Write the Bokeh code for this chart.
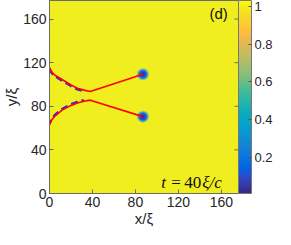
import numpy as np
from bokeh.plotting import figure
from bokeh.models import (LinearColorMapper, ColorBar, FixedTicker,
                          Label, CustomJSTickFormatter, Range1d)
from bokeh.embed import file_html
from bokeh.resources import INLINE

# ---------------- data ----------------
axis_ticks = [0, 40, 80, 120, 160]
cbar_ticks = [0.2, 0.4, 0.6, 0.8, 1.0]

# upper vortex trajectory (curved part then straight segment to the vortex)
top_x = [0, 2, 5, 11.7, 20, 26, 32, 38, 87]
top_y = [115.5, 111.5, 108.5, 104.5, 99.5, 96.5, 94.8, 93.6, 109.3]
# lower vortex trajectory
bot_x = [0, 2, 5, 11.7, 20, 26, 32, 38, 87]
bot_y = [63.0, 67.5, 71.0, 76.5, 80.8, 83.0, 84.6, 85.6, 70.5]
# current vortex positions
vortex_x = [87, 87]
vortex_y = [109.3, 70.5]

# parula colormap (64 entries)
parula = [
    (0.2081, 0.1663, 0.5292), (0.2116, 0.1898, 0.5777), (0.2123, 0.2138, 0.6270), (0.2081, 0.2386, 0.6771),
    (0.1959, 0.2645, 0.7279), (0.1707, 0.2919, 0.7792), (0.1253, 0.3242, 0.8303), (0.0591, 0.3598, 0.8683),
    (0.0117, 0.3875, 0.8820), (0.0060, 0.4086, 0.8828), (0.0165, 0.4266, 0.8786), (0.0329, 0.4430, 0.8720),
    (0.0498, 0.4586, 0.8641), (0.0629, 0.4737, 0.8554), (0.0723, 0.4887, 0.8467), (0.0779, 0.5040, 0.8384),
    (0.0793, 0.5200, 0.8312), (0.0749, 0.5375, 0.8263), (0.0641, 0.5570, 0.8240), (0.0488, 0.5772, 0.8228),
    (0.0343, 0.5966, 0.8199), (0.0265, 0.6137, 0.8135), (0.0239, 0.6287, 0.8038), (0.0231, 0.6418, 0.7913),
    (0.0228, 0.6535, 0.7768), (0.0267, 0.6642, 0.7607), (0.0384, 0.6743, 0.7436), (0.0590, 0.6838, 0.7254),
    (0.0843, 0.6928, 0.7062), (0.1133, 0.7015, 0.6859), (0.1453, 0.7098, 0.6646), (0.1801, 0.7177, 0.6424),
    (0.2178, 0.7250, 0.6193), (0.2586, 0.7317, 0.5954), (0.3022, 0.7376, 0.5712), (0.3482, 0.7424, 0.5473),
    (0.3953, 0.7459, 0.5244), (0.4420, 0.7481, 0.5033), (0.4871, 0.7491, 0.4840), (0.5300, 0.7491, 0.4661),
    (0.5709, 0.7485, 0.4494), (0.6099, 0.7473, 0.4337), (0.6473, 0.7456, 0.4188), (0.6834, 0.7435, 0.4044),
    (0.7184, 0.7411, 0.3905), (0.7525, 0.7384, 0.3768), (0.7858, 0.7356, 0.3633), (0.8185, 0.7327, 0.3498),
    (0.8507, 0.7299, 0.3360), (0.8824, 0.7274, 0.3217), (0.9139, 0.7258, 0.3063), (0.9450, 0.7261, 0.2886),
    (0.9739, 0.7314, 0.2666), (0.9938, 0.7455, 0.2403), (0.9990, 0.7653, 0.2164), (0.9955, 0.7861, 0.1967),
    (0.9880, 0.8066, 0.1794), (0.9789, 0.8271, 0.1633), (0.9697, 0.8481, 0.1475), (0.9626, 0.8705, 0.1309),
    (0.9589, 0.8949, 0.1132), (0.9598, 0.9218, 0.0948), (0.9661, 0.9514, 0.0755), (0.9763, 0.9831, 0.0538),
]
palette = ["#%02x%02x%02x" % tuple(int(round(c * 255)) for c in rgb) for rgb in parula]

# ---------------- figure ----------------
TICK_FONT = "Liberation Sans"
AX_COLOR = "#6b6b6b"
X_MAX, Y_MAX = 176, 177
p = figure(width=275, height=229, x_range=Range1d(0, X_MAX), y_range=Range1d(0, Y_MAX),
           output_backend="svg", toolbar_location=None,
           min_border_left=0, min_border_right=0, min_border_top=0, min_border_bottom=0)
p.background_fill_color = "#F1EE1F"
p.border_fill_color = "white"
p.outline_line_color = AX_COLOR
p.grid.visible = False

for ax in (p.xaxis[0], p.yaxis[0]):
    ax.ticker = FixedTicker(ticks=axis_ticks)
    ax.major_tick_in = 4
    ax.major_tick_out = 0
    ax.minor_tick_line_color = None
    ax.axis_line_color = AX_COLOR
    ax.major_tick_line_color = AX_COLOR
    ax.major_label_text_font = TICK_FONT
    ax.major_label_text_font_size = "14px"
    ax.major_label_text_color = "#262626"
    ax.axis_label_text_font = TICK_FONT
    ax.axis_label_text_font_size = "15px"
    ax.axis_label_text_font_style = "normal"
    ax.axis_label_text_color = "#262626"
    ax.axis_label_standoff = 0
    ax.major_label_standoff = 3

p.xaxis.axis_label = "x/ξ"
p.yaxis.axis_label = "y/ξ"

# inward tick marks on the right edge of the box (half of each dash is clipped by the frame)
p.scatter([X_MAX] * len(axis_ticks), axis_ticks, marker="dash", size=8,
          line_color=AX_COLOR, line_width=1)

# trajectories: blue dashes on inner side, red line on top
blue_top_y = [v - 1.0 for v in top_y[:7]]
blue_bot_y = [v + 1.0 for v in bot_y[:7]]
p.line(top_x[:7], blue_top_y, line_color="#2b2be0", line_width=2.4, line_dash="7 4")
p.line(bot_x[:7], blue_bot_y, line_color="#2b2be0", line_width=2.4, line_dash="7 4", line_dash_offset=3)

# vortex cores
p.scatter(vortex_x, vortex_y, size=12, fill_color="#5cbfa0", line_color=None, fill_alpha=0.8)
p.scatter(vortex_x, vortex_y, size=9.5, fill_color="#1d8fd6", line_color=None)
p.scatter(vortex_x, vortex_y, size=7, fill_color="#3148d8", line_color=None)
p.scatter(vortex_x, vortex_y, size=4, fill_color="#3a2fb0", line_color=None)

p.line(top_x, top_y, line_color="#ff0000", line_width=1.6)
p.line(bot_x, bot_y, line_color="#ff0000", line_width=1.6)

# texts
p.add_layout(Label(x=157.5, y=165, text="(d)", text_align="center", text_baseline="middle",
                   text_font=TICK_FONT, text_font_size="15px", text_color="#111111"))
MATH_FONT = "Liberation Serif"
pieces = [("t", 0, "italic"), ("=", 10, "normal"), ("40", 23, "normal"), ("ξ/c", 41, "italic")]
for txt, off, style in pieces:
    p.add_layout(Label(x=104, y=10.5, x_offset=off, text=txt, text_align="left",
                       text_baseline="alphabetic", text_font=MATH_FONT, text_font_size="17px",
                       text_font_style=style, text_color="#111111"))

# colorbar
mapper = LinearColorMapper(palette=palette, low=0.01, high=1.03)
cb = ColorBar(color_mapper=mapper, width=13, padding=0, margin=5,
              ticker=FixedTicker(ticks=cbar_ticks),
              formatter=CustomJSTickFormatter(code="return String(tick)"),
              major_label_text_font=TICK_FONT, major_label_text_font_size="13px",
              major_label_text_color="#262626", label_standoff=3,
              major_tick_in=3, major_tick_out=0, major_tick_line_color="#555555",
              minor_tick_line_color=None, bar_line_color="#777777",
              border_line_color=None, background_fill_alpha=0)
p.add_layout(cb, "right")

open("out.html", "w").write(file_html(p, INLINE))
